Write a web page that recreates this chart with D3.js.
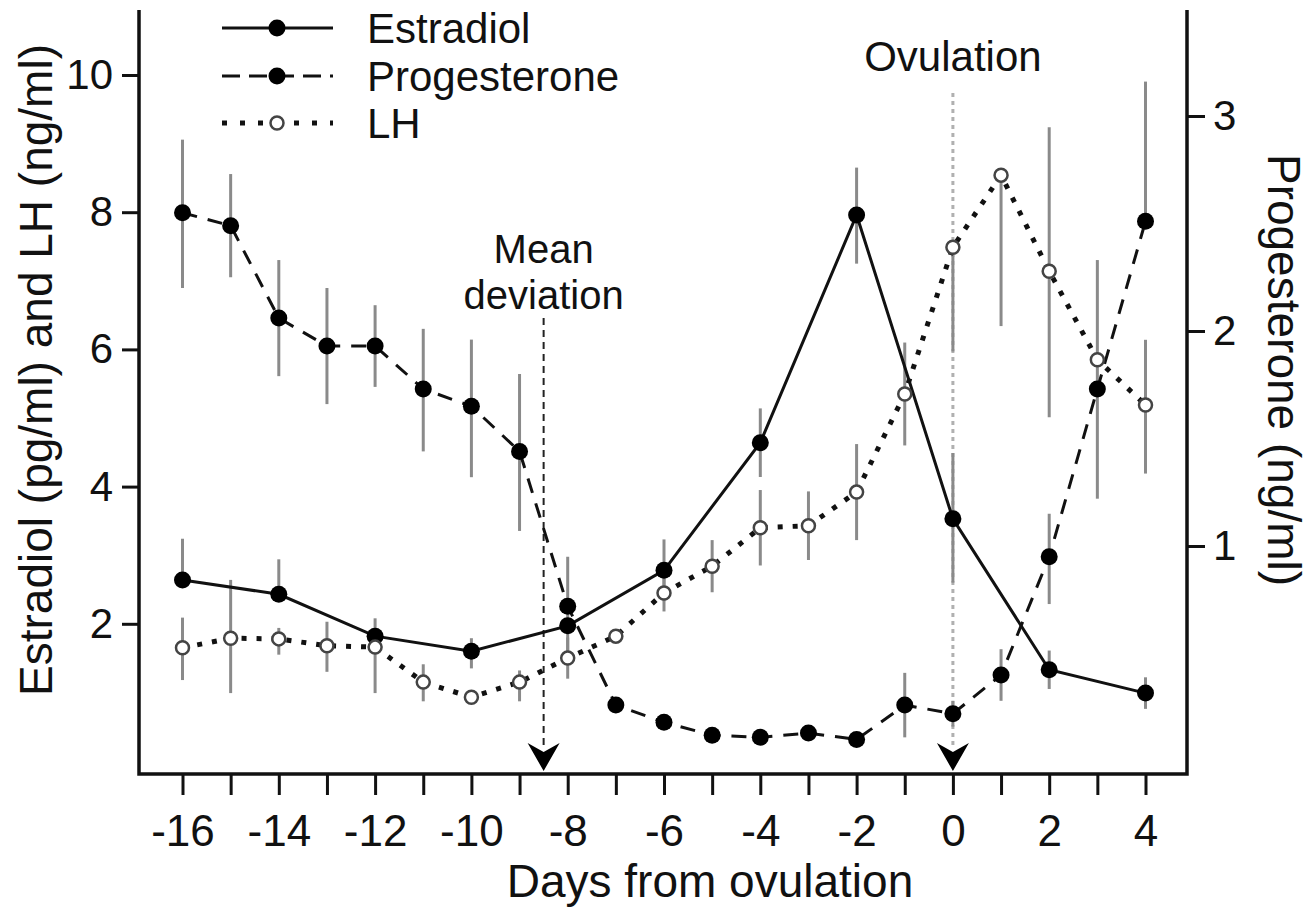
<!DOCTYPE html>
<html><head><meta charset="utf-8">
<script src="https://cdn.jsdelivr.net/npm/d3@7"></script>
<style>
body{margin:0;background:#fff;}
svg{display:block;}
text{font-family:"Liberation Sans", Arial, Helvetica, sans-serif; fill:#111;}
</style>
</head><body>
<svg id="c" width="1309" height="909"></svg>
<script>
// ---------------- DATA ----------------
const allDays = [-16,-15,-14,-13,-12,-11,-10,-9,-8,-7,-6,-5,-4,-3,-2,-1,0,1,2,3,4];
const xTickLabels = [-16,-14,-12,-10,-8,-6,-4,-2,0,2,4];
const leftTicks = [2,4,6,8,10];
const rightTicks = [1,2,3];

const estradiolDays = [-16,-14,-12,-10,-8,-6,-4,-2,0,2,4];
const estradiol = [2.64,2.43,1.82,1.60,1.97,2.78,4.64,7.96,3.53,1.33,0.99];
const estradiolErrUp = [0.60,0.51,0,0.19,0,0.45,0.50,0.69,0.96,0.28,0.23];
const estradiolErrDown = [0,0,0,0.25,0,0.45,0.50,0.71,0.93,0.28,0.23];

const progesterone = [2.55,2.49,2.06,1.93,1.93,1.73,1.65,1.44,0.72,0.26,0.18,0.12,0.11,0.13,0.10,0.26,0.22,0.40,0.95,1.73,2.51];
const progErrUp   = [0.34,0.24,0.27,0.27,0.19,0.28,0.31,0.36,0.23,0,0,0,0,0,0,0.15,0.06,0.12,0.20,0.60,0.65];
const progErrDown = [0.35,0.24,0.27,0.27,0.19,0.29,0.33,0.37,0.23,0,0,0,0,0,0,0.15,0.06,0.12,0.22,0.51,0];

const lh = [1.65,1.79,1.78,1.68,1.66,1.15,0.93,1.15,1.50,1.82,2.45,2.84,3.40,3.43,3.92,5.35,7.49,8.54,7.14,5.85,5.19];
const lhErrUp   = [0.44,0.85,0.16,0.35,0.42,0.26,0,0.17,0.30,0.10,0.27,0.38,0.55,0.50,0.70,0.75,0,0,2.10,0,0.95];
const lhErrDown = [0.47,0.80,0.23,0.38,0.67,0.28,0,0.28,0.30,0.10,0.27,0.38,0.55,0.50,0.70,0.75,1.52,2.20,2.13,0,1.00];

const meanDeviationDay = -8.5;
const ovulationDay = 0;
const legendLabels = ["Estradiol","Progesterone","LH"];

// ---------------- CHART ----------------
const svg = d3.select("#c");
const x = d3.scaleLinear().domain([-16,4]).range([182.5,1145.5]);
const yL = d3.scaleLinear().domain([0,10]).range([761,75]);
const yR = d3.scaleLinear().domain([0,3]).range([761,116]);

const INK = "#111";
const ERR = "#8a8a8a";

function styleAxis(g, fs){
  g.select(".domain").remove();
  g.selectAll(".tick line").attr("stroke", INK).attr("stroke-width", 3);
  g.selectAll(".tick text").attr("font-size", fs).attr("fill", INK)
    .attr("font-family", '"Liberation Sans", Arial, sans-serif');
}

// axes
svg.append("g").attr("transform","translate(139,0)")
  .call(d3.axisLeft(yL).tickValues(leftTicks).tickSize(17).tickPadding(9).tickFormat(d=>String(d)))
  .call(g=>styleAxis(g,42));
svg.append("g").attr("transform","translate(1187,0)")
  .call(d3.axisRight(yR).tickValues(rightTicks).tickSize(18).tickPadding(8).tickFormat(d=>String(d)))
  .call(g=>styleAxis(g,42));
svg.append("g").attr("transform","translate(0,774)")
  .call(d3.axisBottom(x).tickValues(allDays).tickSize(21).tickPadding(20)
     .tickFormat(d => xTickLabels.includes(d) ? String(d) : ""))
  .call(g=>styleAxis(g,44));

// frame
svg.append("path").attr("d","M139,10 V774 H1187 V10")
  .attr("fill","none").attr("stroke",INK).attr("stroke-width",3.5);

// axis titles
svg.append("text").attr("transform","translate(710,897)").attr("text-anchor","middle")
  .attr("font-size",46).text("Days from ovulation");
svg.append("text").attr("transform","translate(52,370) rotate(-90)").attr("text-anchor","middle")
  .attr("font-size",46).text("Estradiol (pg/ml) and LH (ng/ml)");
svg.append("text").attr("transform","translate(1268,370) rotate(90)").attr("text-anchor","middle")
  .attr("font-size",46).text("Progesterone (ng/ml)");

// annotation lines
svg.append("line").attr("x1",x(ovulationDay)).attr("x2",x(ovulationDay)).attr("y1",93).attr("y2",748)
  .attr("stroke","#b0b0b0").attr("stroke-width",3).attr("stroke-dasharray","4,4");
svg.append("line").attr("x1",x(meanDeviationDay)).attr("x2",x(meanDeviationDay)).attr("y1",318).attr("y2",748)
  .attr("stroke","#222").attr("stroke-width",2).attr("stroke-dasharray","7,5");

// error bars
const estData = estradiolDays.map((d,i)=>({day:d,v:estradiol[i],up:estradiolErrUp[i],dn:estradiolErrDown[i]}));
const progData = allDays.map((d,i)=>({day:d,v:progesterone[i],up:progErrUp[i],dn:progErrDown[i]}));
const lhData = allDays.map((d,i)=>({day:d,v:lh[i],up:lhErrUp[i],dn:lhErrDown[i]}));

function errBars(data, y){
  svg.append("g").selectAll("line").data(data.filter(d=>d.up>0||d.dn>0)).join("line")
    .attr("x1",d=>x(d.day)).attr("x2",d=>x(d.day))
    .attr("y1",d=>y(d.v+d.up)).attr("y2",d=>y(d.v-d.dn))
    .attr("stroke",ERR).attr("stroke-width",3);
}
errBars(progData, yR);
errBars(estData, yL);
errBars(lhData, yL);

// series lines
const lineL = d3.line().x(d=>x(d.day)).y(d=>yL(d.v));
const lineR = d3.line().x(d=>x(d.day)).y(d=>yR(d.v));
svg.append("path").datum(estData).attr("d",lineL).attr("fill","none").attr("stroke",INK).attr("stroke-width",3);
svg.append("path").datum(progData).attr("d",lineR).attr("fill","none").attr("stroke",INK).attr("stroke-width",3)
  .attr("stroke-dasharray","15,11");
svg.append("path").datum(lhData).attr("d",lineL).attr("fill","none").attr("stroke",INK).attr("stroke-width",5)
  .attr("stroke-dasharray","5,10");

// markers
svg.append("g").selectAll("circle").data(progData).join("circle")
  .attr("cx",d=>x(d.day)).attr("cy",d=>yR(d.v)).attr("r",8.5).attr("fill","#000");
svg.append("g").selectAll("circle").data(estData).join("circle")
  .attr("cx",d=>x(d.day)).attr("cy",d=>yL(d.v)).attr("r",8.5).attr("fill","#000");
svg.append("g").selectAll("circle").data(lhData).join("circle")
  .attr("cx",d=>x(d.day)).attr("cy",d=>yL(d.v)).attr("r",6.5).attr("fill","#fff")
  .attr("stroke","#444").attr("stroke-width",2.5);

// arrowheads
function arrow(cx){
  svg.append("path").attr("d",`M${cx},771 L${cx-16},743 L${cx},752 L${cx+16},743 Z`).attr("fill","#000");
}
arrow(x(meanDeviationDay));
arrow(x(ovulationDay));

// annotation texts
svg.append("text").attr("x",x(ovulationDay)).attr("y",71).attr("text-anchor","middle").attr("font-size",42).text("Ovulation");
svg.append("text").attr("x",x(meanDeviationDay)).attr("y",263).attr("text-anchor","middle").attr("font-size",40).text("Mean");
svg.append("text").attr("x",x(meanDeviationDay)).attr("y",309).attr("text-anchor","middle").attr("font-size",40).text("deviation");

// legend
const legY = [28,76,123];
const legStyles = [
  {dash:null, w:3, open:false},
  {dash:"18,9", w:3, open:false},
  {dash:"5,13", w:5, open:true}
];
legendLabels.forEach((lab,i)=>{
  const g = svg.append("g");
  g.append("line").attr("x1",222).attr("x2",333).attr("y1",legY[i]).attr("y2",legY[i])
    .attr("stroke",INK).attr("stroke-width",legStyles[i].w)
    .attr("stroke-dasharray",legStyles[i].dash);
  if(legStyles[i].open){
    g.append("circle").attr("cx",277).attr("cy",legY[i]).attr("r",6.5).attr("fill","#fff").attr("stroke","#444").attr("stroke-width",2.5);
  } else {
    g.append("circle").attr("cx",277).attr("cy",legY[i]).attr("r",8.5).attr("fill","#000");
  }
  g.append("text").attr("x",367).attr("y",legY[i]+15).attr("font-size",42).text(lab);
});
</script>
</body></html>
